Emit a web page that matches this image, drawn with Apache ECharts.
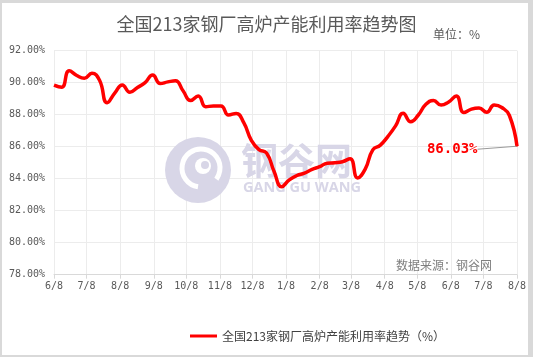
<!DOCTYPE html>
<html>
<head>
<meta charset="utf-8">
<script src="https://cdn.jsdelivr.net/npm/echarts@6/dist/echarts.min.js"></script>
<style>
  html, body { margin: 0; padding: 0; background: #ffffff; }
  #chart { position: absolute; left: 0; top: 0; width: 533px; height: 357px; }
  #frame { position: absolute; left: 0; top: 0; width: 533px; height: 357px; box-sizing: border-box;
           border-style: solid; border-color: #d9d9d9; border-width: 3px 5px 2px 2px; pointer-events: none; }
</style>
</head>
<body>
<div id="chart"></div>
<div id="frame"></div>
<script>
// ---- data ----
const titleText = '全国213家钢厂高炉产能利用率趋势图';
const seriesName = '全国213家钢厂高炉产能利用率趋势（%）';
const dates = [
  '2023-06-08','2023-06-15','2023-06-22','2023-06-29','2023-07-06','2023-07-13','2023-07-20','2023-07-27',
  '2023-08-03','2023-08-10','2023-08-17','2023-08-24','2023-08-31','2023-09-07','2023-09-14','2023-09-21',
  '2023-09-28','2023-10-05','2023-10-12','2023-10-19','2023-10-26','2023-11-02','2023-11-09','2023-11-16',
  '2023-11-23','2023-11-30','2023-12-07','2023-12-14','2023-12-21','2023-12-28','2024-01-04','2024-01-11',
  '2024-01-18','2024-01-25','2024-02-01','2024-02-08','2024-02-15','2024-02-22','2024-02-29','2024-03-07',
  '2024-03-14','2024-03-21','2024-03-28','2024-04-04','2024-04-11','2024-04-18','2024-04-25','2024-05-02',
  '2024-05-09','2024-05-16','2024-05-23','2024-05-30','2024-06-06','2024-06-13','2024-06-20','2024-06-27',
  '2024-07-04','2024-07-11','2024-07-18','2024-07-25','2024-08-01','2024-08-08'
];
const values = [
  89.85, 89.72, 90.75, 90.45, 90.28, 90.59, 90.15, 88.75, 89.35, 89.86,
  89.40, 89.70, 90.00, 90.48, 89.95, 90.05, 90.12, 89.50, 88.88, 89.17,
  88.50, 88.55, 88.55, 87.98, 88.08, 87.50, 86.40, 85.82, 85.60, 84.45,
  83.50, 83.93, 84.20, 84.35, 84.58, 84.75, 84.97, 85.00, 85.06, 85.25,
  84.05, 84.60, 85.80, 86.10, 86.65, 87.30, 88.09, 87.56, 87.98, 88.65,
  88.88, 88.60, 88.80, 89.17, 88.13, 88.35, 88.42, 88.15, 88.60, 88.45,
  87.95, 86.03
];
const xTickDates = [
  '2023-06-08','2023-07-08','2023-08-08','2023-09-08','2023-10-08','2023-11-08','2023-12-08',
  '2024-01-08','2024-02-08','2024-03-08','2024-04-08','2024-05-08','2024-06-08','2024-07-08','2024-08-08'
];
const xTickLabels = ['6/8','7/8','8/8','9/8','10/8','11/8','12/8','1/8','2/8','3/8','4/8','5/8','6/8','7/8','8/8'];
const yMin = 78, yMax = 92, yStep = 2;

// days since the first date (x coordinate on a linear axis)
function dayIndex(s) {
  const p = s.split('-').map(Number);
  const q = xTickDates[0].split('-').map(Number);
  return Math.round((Date.UTC(p[0], p[1] - 1, p[2]) - Date.UTC(q[0], q[1] - 1, q[2])) / 86400000);
}
const tickPos = xTickDates.map(dayIndex);

const seriesData = dates.map(function (d, i) {
  const item = { value: [dayIndex(d), values[i]] };
  if (i === dates.length - 1) {
    item.symbol = 'circle';
    item.symbolSize = 1;
    item.label = { show: true };
    item.labelLine = { show: true };
  }
  return item;
});

const chart = echarts.init(document.getElementById('chart'));
const wm = '#d8d6e7';
chart.setOption({
  animation: false,
  backgroundColor: '#ffffff',
  title: {
    text: titleText, left: 'center', top: 10,
    textStyle: { fontSize: 18, fontWeight: 'normal', color: '#595959', fontFamily: 'Noto Sans CJK SC' }
  },
  legend: {
    left: 185, top: 325, itemWidth: 27, itemHeight: 3,
    data: [{ name: seriesName, icon: 'rect' }],
    itemStyle: { color: '#ff0000' },
    textStyle: { fontSize: 12, color: '#404040', fontFamily: 'Noto Sans CJK SC' }
  },
  grid: { left: 54, right: 16, top: 50.7, bottom: 82.3, containLabel: false },
  xAxis: {
    type: 'value',
    min: tickPos[0], max: tickPos[tickPos.length - 1],
    axisLine: { show: true, lineStyle: { color: '#d9d9d9', width: 1 } },
    axisTick: { show: true, length: 4, lineStyle: { color: '#d9d9d9' }, customValues: tickPos },
    axisLabel: {
      customValues: tickPos, margin: 7, hideOverlap: false,
      color: '#595959', fontSize: 10, fontFamily: 'DejaVu Sans Mono',
      formatter: function (v) { const k = tickPos.indexOf(v); return k >= 0 ? xTickLabels[k] : ''; }
    },
    splitLine: { show: true, lineStyle: { color: '#ececec', width: 1 } }
  },
  yAxis: {
    type: 'value', min: yMin, max: yMax, interval: yStep,
    axisLine: { show: false }, axisTick: { show: false },
    axisLabel: {
      margin: 9, color: '#595959', fontSize: 10, fontFamily: 'DejaVu Sans Mono',
      formatter: function (v) { return v.toFixed(2) + '%'; }
    },
    splitLine: { show: true, lineStyle: { color: '#ececec', width: 1 } }
  },
  graphic: [
    { type: 'circle', z: 1, shape: { cx: 198, cy: 170, r: 33 }, style: { fill: wm } },
    { type: 'arc', z: 1, shape: { cx: 201, cy: 168, r: 19, startAngle: Math.PI * 0.55, endAngle: Math.PI * 2.2 },
      style: { stroke: '#ffffff', lineWidth: 5, fill: null } },
    { type: 'circle', z: 1, shape: { cx: 203, cy: 166, r: 8 }, style: { fill: '#ffffff' } },
    { type: 'circle', z: 1, shape: { cx: 205, cy: 165, r: 4 }, style: { fill: wm } },
    { type: 'text', z: 1, left: 241, top: 142,
      style: { text: '钢谷网', fill: wm, fontSize: 37, fontWeight: 'bold', fontFamily: 'Noto Sans CJK SC' } },
    { type: 'text', z: 1, left: 243, top: 180,
      style: { text: 'GANG GU WANG', fill: wm, fontSize: 14.5, fontWeight: 'bold', fontFamily: 'Open Sans' } },
    { type: 'text', z: 3, left: 433, top: 28,
      style: { text: '单位：%', fill: '#595959', fontSize: 12, fontFamily: 'Noto Sans CJK SC' } },
    { type: 'text', z: 3, left: 396, top: 259,
      style: { text: '数据来源：钢谷网', fill: '#7f7f7f', fontSize: 12, fontFamily: 'Noto Sans CJK SC' } }
  ],
  series: [{
    name: seriesName,
    type: 'line',
    smooth: 0.5,
    symbol: 'none',
    data: seriesData,
    lineStyle: { color: '#ff0000', width: 3.5 },
    itemStyle: { color: '#ff0000' },
    label: {
      show: false, position: 'left', distance: 5,
      color: '#ff0000', fontSize: 14, fontWeight: 'bold', fontFamily: 'DejaVu Sans Mono',
      formatter: function (p) { return p.value[1].toFixed(2) + '%'; }
    },
    labelLine: { show: false, lineStyle: { color: '#9a9a9a', width: 1 } },
    labelLayout: { dx: -34, dy: 3 },
    z: 5
  }]
});
</script>
</body>
</html>
